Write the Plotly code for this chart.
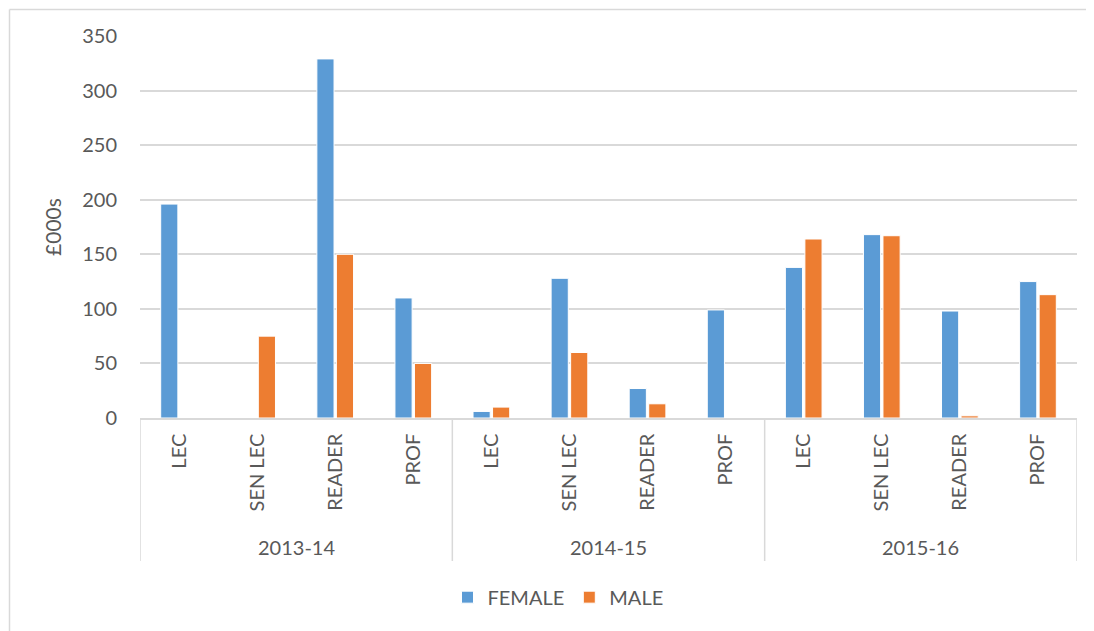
import plotly.graph_objects as go

years = ["2013-14", "2014-15", "2015-16"]
grades = ["LEC", "SEN LEC", "READER", "PROF"]
female = [196, None, 329, 110, 6, 128, 27, 99, 138, 168, 98, 125]
male = [None, 75, 150, 50, 10, 60, 13, None, 164, 167, 2, 113]
y_ticks = [0, 50, 100, 150, 200, 250, 300, 350]

n_g = len(grades)
x_pos = list(range(len(years) * n_g))
x_text = [g for _ in years for g in grades]

font_family = "Lato, 'Noto Sans', sans-serif"
grey = "#595959"
line_grey = "#d9d9d9"
fs = 20

fig = go.Figure()
fig.add_trace(go.Bar(name="FEMALE", x=x_pos, y=female,
                     marker=dict(color="#5B9BD5", line=dict(color="white", width=1))))
fig.add_trace(go.Bar(name="MALE", x=x_pos, y=male,
                     marker=dict(color="#ED7D31", line=dict(color="white", width=1))))

# page offset of 8px (body margin) compensated in margins
fig.update_layout(
    width=1094, height=631,
    margin=dict(l=132, r=25, t=28, b=221),
    paper_bgcolor="white", plot_bgcolor="white",
    barmode="group", bargap=0.5, bargroupgap=0.12,
    font=dict(family=font_family, size=fs, color=grey),
    legend=dict(orientation="h", x=(558 - 140) / 937, xanchor="center",
                y=-0.469, yanchor="middle",
                font=dict(size=fs, color=grey), itemwidth=30, traceorder="normal"),
    showlegend=True,
)
fig.update_xaxes(range=[-0.5, len(x_pos) - 0.5], tickvals=x_pos, ticktext=x_text,
                 tickangle=-90, showgrid=False, zeroline=False,
                 showline=True, linecolor=line_grey, linewidth=1.5,
                 ticks="", ticklabelstandoff=6, tickfont=dict(size=fs, color=grey))
fig.update_yaxes(range=[0, 350], tickvals=y_ticks, showgrid=True, gridcolor=line_grey,
                 gridwidth=1.5, zeroline=False, showline=False, ticks="",
                 ticklabelstandoff=22,
                 title=dict(text="£000s", font=dict(size=21, color=grey), standoff=14),
                 tickfont=dict(size=fs, color=grey))

# group dividers and year labels
div_bottom = -(561 - 418) / 382
for k in range(len(years) + 1):
    fig.add_shape(type="line", xref="x", yref="paper",
                  x0=k * n_g - 0.5, x1=k * n_g - 0.5, y0=0, y1=div_bottom,
                  line=dict(color=line_grey, width=1.5))
for k, yr in enumerate(years):
    fig.add_annotation(xref="x", yref="paper", x=k * n_g + (n_g - 1) / 2,
                       y=-(547 - 418) / 382, text=yr, showarrow=False,
                       yanchor="middle", font=dict(size=fs, color=grey))

# outer chart border: only the top and left edges are visible in the picture
bx0 = (9.5 - 140) / 937
by1 = (418 - 9.5) / 382
fig.add_shape(type="line", xref="paper", yref="paper", x0=bx0, x1=1.2, y0=by1, y1=by1,
              line=dict(color=line_grey, width=1.5), layer="below")
fig.add_shape(type="line", xref="paper", yref="paper", x0=bx0, x1=bx0, y0=by1, y1=-0.7,
              line=dict(color=line_grey, width=1.5), layer="below")

fig.write_html("out.html")
